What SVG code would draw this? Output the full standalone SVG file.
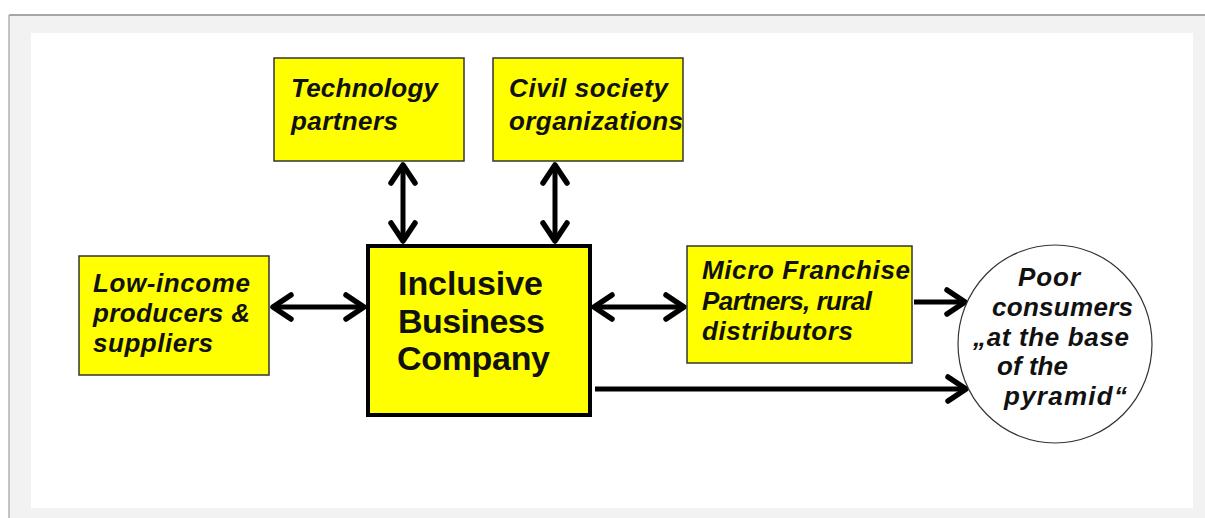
<svg xmlns="http://www.w3.org/2000/svg" width="1205" height="518" viewBox="0 0 1205 518">
<style>
.box{fill:#ffff00;stroke:#333;stroke-width:1.5}
.main{fill:#ffff00;stroke:#000;stroke-width:4}
.t{font-family:"Liberation Sans",Arial,sans-serif;font-weight:bold;font-style:italic;font-size:26px;fill:#111}
.tm{font-family:"Liberation Sans",Arial,sans-serif;font-weight:bold;font-size:34px;fill:#111}
.c{stroke:#000;stroke-width:5;fill:none}
</style>
<defs>
<marker id="ah" markerUnits="userSpaceOnUse" viewBox="0 0 24 30" refX="21" refY="15" markerWidth="24" markerHeight="30" orient="auto-start-reverse">
<path d="M3,3 L21,15 L3,27" fill="none" stroke="#000" stroke-width="5.5" stroke-linecap="round" stroke-linejoin="round"/>
</marker>
</defs>
<rect x="0" y="0" width="1205" height="518" fill="#ffffff"/>
<rect x="9" y="15" width="1196" height="503" fill="#f2f2f2"/>
<line x1="9" y1="15" x2="1205" y2="15" stroke="#a6a6a6" stroke-width="2"/>
<line x1="9" y1="15" x2="9" y2="518" stroke="#b0b0b0" stroke-width="1.5"/>
<rect x="31" y="33" width="1162" height="475" fill="#ffffff"/>

<g id="connectors">
<line class="c" x1="273" y1="307" x2="364" y2="307" marker-start="url(#ah)" marker-end="url(#ah)"/>
<line class="c" x1="594" y1="307" x2="684" y2="307" marker-start="url(#ah)" marker-end="url(#ah)"/>
<line class="c" x1="403" y1="165" x2="403" y2="241" marker-start="url(#ah)" marker-end="url(#ah)"/>
<line class="c" x1="555" y1="165" x2="555" y2="241" marker-start="url(#ah)" marker-end="url(#ah)"/>
<line class="c" x1="914" y1="302" x2="965" y2="302" marker-end="url(#ah)"/>
<line class="c" x1="595" y1="389" x2="966" y2="389" marker-end="url(#ah)"/>
</g>

<g id="tech">
<rect class="box" x="274" y="58" width="190" height="103"/>
<text class="t" x="291" y="97" textLength="147" lengthAdjust="spacing">Technology</text>
<text class="t" x="291" y="130" textLength="107" lengthAdjust="spacing">partners</text>
</g>
<g id="civil">
<rect class="box" x="493" y="58" width="190" height="103"/>
<text class="t" x="509" y="97" textLength="159" lengthAdjust="spacing">Civil society</text>
<text class="t" x="509" y="130" textLength="174" lengthAdjust="spacing">organizations</text>
</g>
<g id="lowincome">
<rect class="box" x="79" y="256" width="190" height="119"/>
<text class="t" x="93" y="292" textLength="157" lengthAdjust="spacing">Low-income</text>
<text class="t" x="93" y="322" textLength="157" lengthAdjust="spacing">producers &amp;</text>
<text class="t" x="93" y="352" textLength="120" lengthAdjust="spacing">suppliers</text>
</g>
<g id="inclusive">
<rect class="main" x="368" y="246" width="222" height="169"/>
<text class="tm" x="398" y="295" textLength="145" lengthAdjust="spacing">Inclusive</text>
<text class="tm" x="398" y="333" textLength="147" lengthAdjust="spacing">Business</text>
<text class="tm" x="397" y="370" textLength="153" lengthAdjust="spacing">Company</text>
</g>
<g id="micro">
<rect class="box" x="687" y="246" width="225" height="117"/>
<text class="t" x="702" y="279" textLength="208" lengthAdjust="spacing">Micro Franchise</text>
<text class="t" x="702" y="310" textLength="170" lengthAdjust="spacing">Partners, rural</text>
<text class="t" x="702" y="340" textLength="151" lengthAdjust="spacing">distributors</text>
</g>
<g id="consumers">
<ellipse cx="1055" cy="344" rx="97" ry="99" fill="#ffffff" stroke="#333" stroke-width="1.2"/>
<text class="t" x="1018" y="286" textLength="62" lengthAdjust="spacing">Poor</text>
<text class="t" x="992" y="316" textLength="141" lengthAdjust="spacing">consumers</text>
<text class="t" x="973" y="346" textLength="156" lengthAdjust="spacing">„at the base</text>
<text class="t" x="997" y="375" textLength="71" lengthAdjust="spacing">of the</text>
<text class="t" x="1004" y="405" textLength="123" lengthAdjust="spacing">pyramid“</text>
</g>
</svg>
